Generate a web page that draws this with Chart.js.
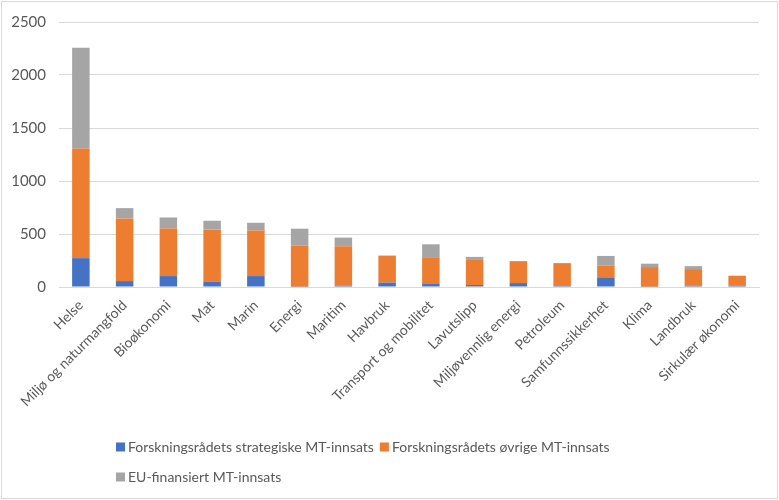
<!DOCTYPE html>
<html>
<head>
<meta charset="utf-8">
<script src="https://cdn.jsdelivr.net/npm/chart.js@4.4.1/dist/chart.umd.min.js"></script>
<style>
    html, body { margin: 0; padding: 0; background: #fff; }
    #wrap { width: 779px; height: 500px; position: relative; }
</style>
</head>
<body>
<div id="wrap"><canvas id="chrtMt"></canvas></div>
<script>
const categories = ["Helse", "Miljø og naturmangfold", "Bioøkonomi", "Mat", "Marin", "Energi", "Maritim", "Havbruk",
    "Transport og mobilitet", "Lavutslipp", "Miljøvennlig energi", "Petroleum", "Samfunnssikkerhet", "Klima",
    "Landbruk", "Sirkulær økonomi"];
const strategiske = [272, 56, 103, 50, 103, 3, 13, 41, 28, 19, 37, 10, 91, 3, 13, 13];
const ovrige = [1035, 591, 450, 491, 431, 388, 371, 253, 253, 243, 207, 215, 112, 185, 156, 91];
const euFinansiert = [950, 97, 103, 84, 72, 159, 82, 3, 122, 22, 0, 0, 90, 32, 28, 3];
const seriesNames = ["Forskningsrådets strategiske MT-innsats", "Forskningsrådets øvrige MT-innsats", "EU-finansiert MT-innsats"];
const yTicks = [0, 500, 1000, 1500, 2000, 2500];

const FONT = "Lato";
const TXT = "#595959";
const GRID = "#d9d9d9";

// excel-ish legend: rows left aligned, plus chart frame
const excelLegend = {
    id: "excelLegend",
    afterDraw(chart) {
        const ctx = chart.ctx;
        ctx.save();
        ctx.strokeStyle = GRID;
        ctx.lineWidth = 1;
        ctx.strokeRect(1.5, 1.5, 776, 497);
        ctx.font = "14px " + FONT;
        ctx.textBaseline = "middle";
        ctx.fillStyle = TXT;
        const rows = [[0, 1], [2]];
        const rowY = [447, 477];
        rows.forEach((row, r) => {
            let x = 116;
            for (let i of row) {
                const ds = chart.data.datasets[i];
                ctx.fillStyle = ds.backgroundColor;
                ctx.fillRect(x, rowY[r] - 4.5, 9, 9);
                ctx.fillStyle = TXT;
                ctx.fillText(ds.label, x + 12, rowY[r]);
                x += 12 + ctx.measureText(ds.label).width + 6;
            }
        });
        ctx.restore();
    }
};

const mk = (label, data, color) => ({
    label, data,
    backgroundColor: color,
    borderWidth: 0,
    barPercentage: 0.8,
    categoryPercentage: 0.5
});

new Chart(document.getElementById("chrtMt"), {
    type: "bar",
    data: {
        labels: categories,
        datasets: [
            mk(seriesNames[0], strategiske, "#4472C4"),
            mk(seriesNames[1], ovrige, "#ED7D31"),
            mk(seriesNames[2], euFinansiert, "#A5A5A5")
        ]
    },
    options: {
        responsive: true,
        maintainAspectRatio: false,
        animation: false,
        layout: { padding: { top: 20, right: 20, bottom: 83, left: 0 } },
        plugins: {
            legend: { display: false },
            tooltip: { enabled: false }
        },
        scales: {
            x: {
                stacked: true,
                grid: { display: false },
                border: { color: GRID },
                ticks: {
                    color: TXT,
                    font: { family: FONT, size: 14 },
                    minRotation: 45,
                    maxRotation: 45,
                    padding: 2
                },
                afterFit: s => { s.height = 130; }
            },
            y: {
                stacked: true,
                min: 0,
                max: 2500,
                afterBuildTicks: s => { s.ticks = yTicks.map(v => ({ value: v })); },
                grid: { color: GRID, drawTicks: false },
                border: { display: false },
                ticks: {
                    color: TXT,
                    font: { family: FONT, size: 15 },
                    padding: 13,
                    callback: v => String(v)
                },
                afterFit: s => { s.width = 59; }
            }
        }
    },
    plugins: [excelLegend]
});
</script>
</body>
</html>
